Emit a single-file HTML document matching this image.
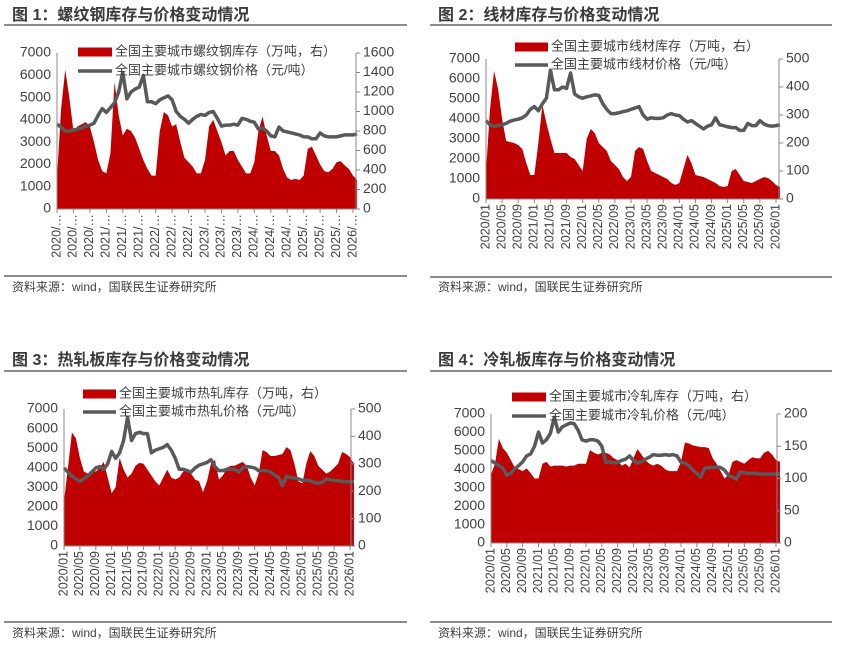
<!DOCTYPE html>
<html><head><meta charset="utf-8">
<style>
html,body{margin:0;padding:0;background:#fff;}
svg{display:block;font-family:"Liberation Sans","Noto Sans CJK SC",sans-serif;}
</style></head>
<body>
<svg id="root" width="843" height="648" viewBox="0 0 843 648" xmlns="http://www.w3.org/2000/svg"></svg>
<script>
const fullLabels = ["2020/01","2020/05","2020/09","2021/01","2021/05","2021/09","2022/01","2022/05","2022/09","2023/01","2023/05","2023/09","2024/01","2024/05","2024/09","2025/01","2025/05","2025/09","2026/01"];
const truncLabels = ["2020/…","2020/…","2020/…","2021/…","2021/…","2021/…","2022/…","2022/…","2022/…","2023/…","2023/…","2023/…","2024/…","2024/…","2024/…","2025/…","2025/…","2025/…","2026/…"];
const leftTicks = [0,1000,2000,3000,4000,5000,6000,7000];
const right1Ticks = [0,200,400,600,800,1000,1200,1400,1600];
const right2Ticks = [0,100,200,300,400,500];
const right4Ticks = [0,50,100,150,200];

const rebarInv = [1400,4500,6250,5000,3500,3700,3800,3900,3700,3000,2200,1700,1600,2500,5700,4200,3300,3600,3500,3200,2700,2200,1800,1500,1500,3500,4350,4200,3700,3800,3000,2300,2100,1900,1600,1600,2200,3700,4000,3500,3000,2400,2600,2600,2200,1900,1600,1600,2100,3500,4150,3300,2600,2600,2400,1800,1400,1300,1350,1300,1500,2700,2800,2400,2000,1700,1650,1800,2100,2150,1950,1800,1500,1300];
const rebarPrice = [870,840,800,800,810,820,830,850,860,880,960,1030,990,1040,1090,1200,1400,1130,1200,1230,1250,1370,1100,1100,1080,1120,1140,1160,1120,1000,950,920,880,920,950,970,960,990,1000,930,850,860,860,870,860,930,920,900,890,820,830,800,750,740,840,800,790,780,770,760,740,740,720,720,780,750,740,740,740,750,760,760,760,770];

const wireInv = [1400,4500,6400,5500,4000,2900,2850,2800,2700,2500,1800,1200,1200,2800,4700,3800,3000,2300,2300,2300,2300,2100,2000,1700,1400,3000,3500,3300,2800,2600,2400,1900,1700,1500,1100,900,1100,2400,2600,2500,1900,1400,1300,1200,1100,1000,800,700,800,1500,2200,1800,1200,1150,1100,1000,900,800,650,600,650,1400,1500,1200,900,850,800,900,1000,1100,1050,900,700,600];
const wirePrice = [280,265,260,262,265,270,278,282,285,290,300,320,330,315,340,360,460,390,390,400,395,450,375,365,360,365,368,372,370,340,320,305,305,308,312,315,320,325,330,300,285,290,288,288,290,300,305,300,298,285,275,280,270,260,250,260,265,290,265,262,258,255,255,245,245,270,262,262,280,268,262,260,262,265];

const hotInv = [2300,4000,5800,5500,4500,3800,3700,3900,3800,4000,4300,3500,2700,3000,4500,3900,3500,3700,4100,4250,4200,3900,3600,3300,3100,3500,3900,3500,3400,3500,3800,3900,3700,3400,3300,2750,3300,4200,4400,3400,3600,4000,4100,4100,4200,4300,4100,3500,3100,3700,4900,4800,4600,4600,4650,4700,5050,4900,4200,3300,3200,4200,4850,4600,4100,3900,3700,3800,4000,4200,4800,4700,4550,4200];
const hotPrice = [285,270,255,245,235,245,255,270,285,290,280,300,345,320,340,385,470,385,410,415,410,410,340,350,355,360,370,350,320,280,280,275,270,285,295,300,305,315,290,275,275,280,280,280,270,285,290,288,285,275,275,275,270,260,250,220,255,250,248,245,240,240,238,232,230,232,245,242,240,238,236,235,235,235];

const coldInv = [3700,4300,5650,5150,4900,4500,4100,4000,3900,4050,3800,3500,3500,4300,4400,4150,4200,4200,4200,4150,4200,4200,4300,4300,4300,5050,4900,4800,4900,4900,4800,4600,4500,4200,4300,4100,4600,5100,4800,4500,4300,4200,4300,4200,4000,3900,3900,3900,4400,5450,5400,5300,5250,5200,5200,5150,4600,4300,3900,3500,3700,4400,4500,4400,4300,4500,4650,4600,4600,4900,5000,4800,4500,4400];
const coldPrice = [128,124,120,116,105,108,115,120,126,135,138,150,172,155,160,170,195,172,180,183,186,185,175,160,158,160,160,158,150,125,126,124,125,128,130,135,128,124,126,130,133,137,136,136,137,136,137,135,125,124,120,113,108,102,116,117,117,118,117,113,105,102,99,110,109,108,108,108,107,107,107,107,107,107];

const NS = "http://www.w3.org/2000/svg";
const root = document.getElementById("root");
function mk(tag, attrs, parent){
  const el = document.createElementNS(NS, tag);
  for (const k in attrs) el.setAttribute(k, attrs[k]);
  (parent||root).appendChild(el);
  return el;
}
function txt(str, attrs, parent){
  const t = mk("text", attrs, parent);
  t.textContent = str;
  return t;
}

function drawChart(c){
  const g = mk("g", {});
  
  
  const tt = txt(c.title, {x:c.titleX, y:c.titleY, "font-size":16, "font-weight":"bold", fill:"#3a3a3a", "dominant-baseline":"middle"}, g);
  
  
  const ul = mk("line", {x1:c.panelX0, x2:c.panelX1, y1:c.ulY, y2:c.ulY, stroke:"#666", "stroke-width":1.6}, g);
  
  
  const bl = mk("line", {x1:c.panelX0, x2:c.panelX1, y1:c.blY, y2:c.blY, stroke:"#666", "stroke-width":1.6}, g);
  
  
  const src = txt("资料来源：wind，国联民生证券研究所", {x:c.titleX, y:c.srcY, "font-size":12, fill:"#404040", "dominant-baseline":"middle"}, g);
  
  

  const xs = m => c.x0 + (m) * (c.xt - c.x0) / 72;
  const yl = v => c.y0 + (c.yTop - c.y0) * v / 7000;
  const yr = v => c.y0 + (c.yTop - c.y0) * v / c.rMax;

  let d = "M" + xs(0) + "," + c.y0;
  c.inv.forEach((v,i)=>{ d += " L" + xs(i).toFixed(2) + "," + yl(v).toFixed(2); });
  d += " L" + xs(c.inv.length-1).toFixed(2) + "," + c.y0 + " Z";
  const area = mk("path", {d:d, fill:"#c00000"}, g);
  
  

  let p = "";
  c.price.forEach((v,i)=>{ p += (i?" L":"M") + xs(i).toFixed(2) + "," + yr(v).toFixed(2); });
  const ln = mk("path", {d:p, fill:"none", stroke:"#595959", "stroke-width":3.5, "stroke-linejoin":"round"}, g);
  
  

  const la = mk("line", {x1:c.x0, x2:c.x0, y1:c.yTop, y2:c.y0, stroke:"#888", "stroke-width":1}, g);
  
  
  const ra = mk("line", {x1:c.x1, x2:c.x1, y1:c.yTop, y2:c.y0, stroke:"#888", "stroke-width":1}, g);
  
  
  const xa = mk("line", {x1:c.x0, x2:c.x1, y1:c.y0, y2:c.y0, stroke:"#888", "stroke-width":1}, g);
  
  

  leftTicks.forEach(v=>{
    const t = txt(String(v), {x:c.x0-6, y:yl(v), "font-size":14, fill:"#404040", "text-anchor":"end", "dominant-baseline":"middle"}, g);
    
    
  });
  c.rTicks.forEach(v=>{
    const tk = mk("line", {x1:c.x1, x2:c.x1+4, y1:yr(v), y2:yr(v), stroke:"#888"}, g);
    
    
    const t = txt(String(v), {x:c.x1+7, y:yr(v), "font-size":14, fill:"#404040", "dominant-baseline":"middle"}, g);
    
    
  });
  c.xLabels.forEach((lab,i)=>{
    const x = xs(i*4);
    const tk = mk("line", {x1:x, x2:x, y1:c.y0, y2:c.y0+4, stroke:"#888"}, g);
    
    
    const t = txt(lab, {transform:"translate("+x+","+(c.y0+5)+") rotate(-90)", "font-size":12.5, fill:"#404040", "text-anchor":"end", "dominant-baseline":"middle"}, g);
    
    
  });

  const lr = mk("rect", {x:c.legX, y:c.legY1-4.5, width:c.legW, height:9, fill:"#c00000"}, g);
  
  
  const lt1 = txt(c.leg1, {x:c.legX+c.legW+3, y:c.legY1, "font-size":13, fill:"#404040", "dominant-baseline":"middle"}, g);
  
  
  const ll = mk("line", {x1:c.legX, x2:c.legX+c.legW, y1:c.legY2, y2:c.legY2, stroke:"#595959", "stroke-width":3.5}, g);
  
  
  const lt2 = txt(c.leg2, {x:c.legX+c.legW+3, y:c.legY2, "font-size":13, fill:"#404040", "dominant-baseline":"middle"}, g);
  
  
}

drawChart({name:"rebar-chart", title:"图 1：螺纹钢库存与价格变动情况", titleX:12, titleY:16, panelX0:4, panelX1:407, ulY:25, blY:276, srcY:288,
  x0:57, x1:356, xt:353, y0:209, yTop:53, rMax:1600, rTicks:right1Ticks, xLabels:truncLabels,
  inv:rebarInv, price:rebarPrice, legX:78, legW:34, legY1:52, legY2:71,
  leg1:"全国主要城市螺纹钢库存（万吨，右）", leg2:"全国主要城市螺纹钢价格（元/吨）"});
drawChart({name:"wire-rod-chart", title:"图 2：线材库存与价格变动情况", titleX:438, titleY:16, panelX0:430, panelX1:832, ulY:25, blY:277, srcY:288,
  x0:486, x1:779, xt:776, y0:199, yTop:59, rMax:500, rTicks:right2Ticks, xLabels:fullLabels,
  inv:wireInv, price:wirePrice, legX:515, legW:33, legY1:47, legY2:65,
  leg1:"全国主要城市线材库存（万吨，右）", leg2:"全国主要城市线材价格（元/吨）"});
drawChart({name:"hot-rolled-chart", title:"图 3：热轧板库存与价格变动情况", titleX:12, titleY:361, panelX0:4, panelX1:407, ulY:371, blY:622, srcY:634,
  x0:64, x1:351, xt:350, y0:546, yTop:409, rMax:500, rTicks:right2Ticks, xLabels:fullLabels,
  inv:hotInv, price:hotPrice, legX:83, legW:33, legY1:394, legY2:412,
  leg1:"全国主要城市热轧库存（万吨，右）", leg2:"全国主要城市热轧价格（元/吨）"});
drawChart({name:"cold-rolled-chart", title:"图 4：冷轧板库存与价格变动情况", titleX:438, titleY:361, panelX0:430, panelX1:832, ulY:371, blY:622, srcY:634,
  x0:491, x1:777, xt:776, y0:543, yTop:414, rMax:200, rTicks:right4Ticks, xLabels:fullLabels,
  inv:coldInv, price:coldPrice, legX:512, legW:34, legY1:397, legY2:416,
  leg1:"全国主要城市冷轧库存（万吨，右）", leg2:"全国主要城市冷轧价格（元/吨）"});
</script>
</body></html>
